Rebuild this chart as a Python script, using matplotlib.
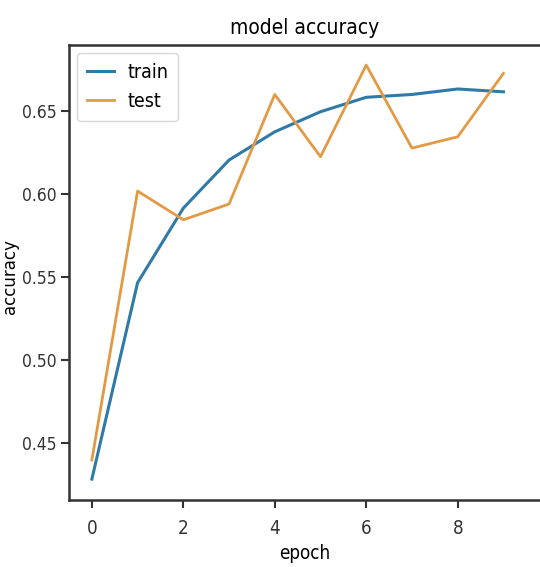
import matplotlib; matplotlib.use("Agg")
import matplotlib.pyplot as plt

epochs = list(range(10))
train_acc = [0.4283, 0.5466, 0.5915, 0.6205, 0.6375, 0.6496, 0.6583, 0.6600, 0.6633, 0.6616]
test_acc = [0.4398, 0.6018, 0.5845, 0.5940, 0.6600, 0.6225, 0.6777, 0.6277, 0.6345, 0.6727]

NARROW = dict(family=["DejaVu Sans"], stretch="condensed")

fig = plt.figure(figsize=(5.4, 5.67), dpi=100)
ax = fig.add_axes([69 / 540, 67 / 567, 471 / 540, 455 / 567])
ax.plot(epochs, train_acc, color="#2f7aa6", lw=2.2, label="train")
ax.plot(epochs, test_acc, color="#e39a45", lw=2.0, label="test")
ax.set_xlim(-0.5, 9.8)
ax.set_ylim(0.4157, 0.6898)
ax.set_xticks([0, 2, 4, 6, 8])
ax.set_yticks([0.45, 0.50, 0.55, 0.60, 0.65])
ax.set_yticklabels(["0.45", "0.50", "0.55", "0.60", "0.65"])
for lab in ax.get_xticklabels():
    lab.set_fontsize(13.5); lab.set_fontstretch("condensed"); lab.set_color("#222222")
for lab in ax.get_yticklabels():
    lab.set_fontsize(12.5); lab.set_fontstretch("condensed"); lab.set_color("#222222")
ax.tick_params(axis="y", length=6, width=1.5, colors="#333333", pad=3)
ax.tick_params(axis="x", length=6, width=1.5, colors="#333333", pad=8)
ax.spines["right"].set_visible(False)
for s in ["left", "bottom", "top"]:
    ax.spines[s].set_linewidth(1.8); ax.spines[s].set_color("#333333")

ax.set_title("model accuracy", fontsize=15, pad=8, **NARROW)
ax.set_xlabel("epoch", fontsize=13.5, labelpad=4, **NARROW)
ax.set_ylabel("accuracy", fontsize=12)
ax.yaxis.set_label_coords(-0.106, 0.49)
leg = ax.legend(loc="upper left", prop=dict(size=14, stretch="condensed"),
                handlelength=1.4, borderpad=0.5, labelspacing=0.55, handletextpad=0.7,
                borderaxespad=0.4)
leg.get_frame().set_edgecolor("#cccccc")
plt.savefig("out.png", dpi=100)
